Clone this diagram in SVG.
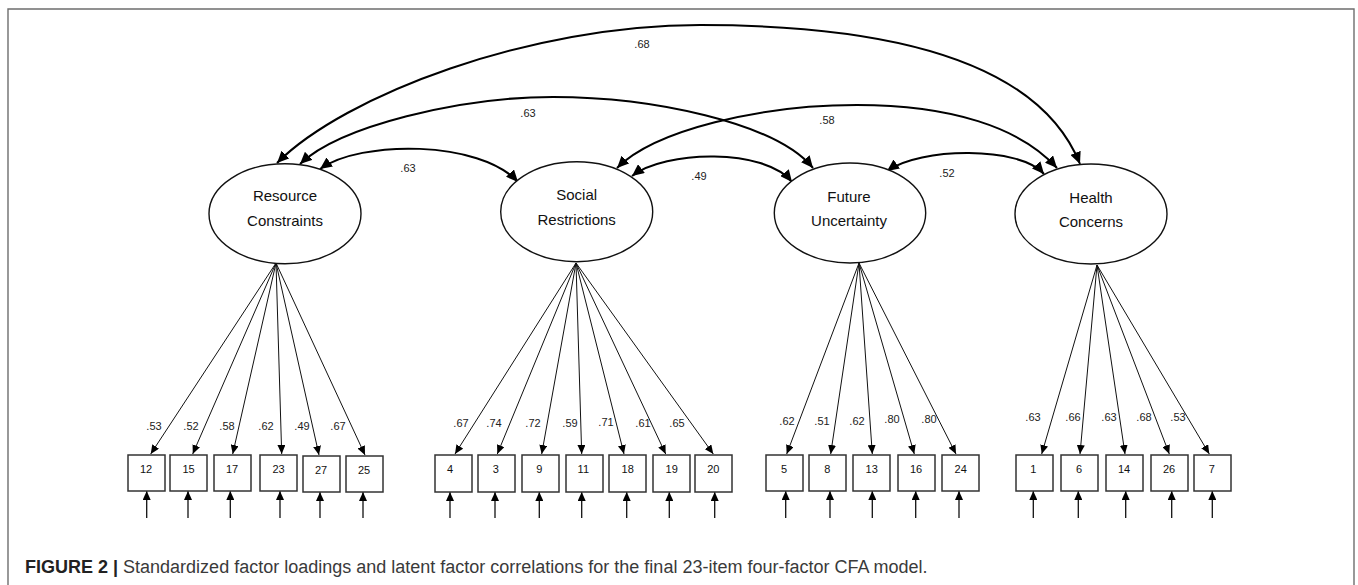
<svg xmlns="http://www.w3.org/2000/svg" width="1358" height="585" viewBox="0 0 1358 585">
<style>
.frame{fill:none;stroke:#6e6e6e;stroke-width:1.4}
.lat ellipse{fill:#fff;stroke:#111;stroke-width:1.4}
.lat text{font-family:"Liberation Sans",Arial,sans-serif;font-size:15px;fill:#111;text-anchor:middle}
.obs rect{fill:#fff;stroke:#333;stroke-width:1.5}
.obs text{font-family:"Liberation Sans",Arial,sans-serif;font-size:11px;fill:#111;text-anchor:middle}
.corr{fill:none;stroke:#000;stroke-width:2;marker-start:url(#big);marker-end:url(#big)}
.load{stroke:#111;stroke-width:1;marker-end:url(#small)}
.err{stroke:#111;stroke-width:1.3;marker-end:url(#small)}
.lbl{font-family:"Liberation Sans",Arial,sans-serif;font-size:11px;fill:#222;text-anchor:middle}
.cap{font-family:"Liberation Sans",Arial,Helvetica,sans-serif;font-size:18px;fill:#3a3a3a}
.capb{font-weight:bold;fill:#222}
</style>
<defs>
<marker id="big" viewBox="0 0 12 11" refX="12" refY="5.5" markerWidth="12" markerHeight="11" markerUnits="userSpaceOnUse" orient="auto-start-reverse">
<path d="M0,0 L12,5.5 L0,11 z" fill="#000"/>
</marker>
<marker id="small" viewBox="0 0 9 8" refX="9" refY="4" markerWidth="9" markerHeight="8" markerUnits="userSpaceOnUse" orient="auto">
<path d="M0,0 L9,4 L0,8 z" fill="#000"/>
</marker>
</defs>
<rect width="1358" height="585" fill="#fff"/>
<path class="frame" d="M8,586 V9 H1354 V586"/>

<g id="connectors">
<path class="corr" d="M277,163 C345,95 530,25 700,25 C930,25 1045,77 1080,164"/>
<path class="corr" d="M300,164 C340,126 460,97 553,97 C650,97 775,122 813,168"/>
<path class="corr" d="M617,168 C655,130 760,105 857,105 C950,105 1020,127 1057,168"/>
<path class="corr" d="M320,169 C360,140 480,140 518,182"/>
<path class="corr" d="M632,176 C665,150 765,148 792,182"/>
<path class="corr" d="M887,171 C920,147 1020,146 1044,174"/>
<text class="lbl" x="642" y="48">.68</text>
<text class="lbl" x="528" y="117">.63</text>
<text class="lbl" x="408" y="172">.63</text>
<text class="lbl" x="699" y="180">.49</text>
<text class="lbl" x="827" y="124">.58</text>
<text class="lbl" x="947" y="177">.52</text>

<line class="load" x1="276" y1="263" x2="150.7" y2="454"/>
<line class="load" x1="276" y1="263" x2="192.7" y2="454"/>
<line class="load" x1="276" y1="263" x2="232.7" y2="454"/>
<line class="load" x1="276" y1="263" x2="281.7" y2="454"/>
<line class="load" x1="276" y1="263" x2="319" y2="455"/>
<line class="load" x1="276" y1="263" x2="365" y2="455"/>
<text class="lbl" x="154" y="430">.53</text>
<text class="lbl" x="191" y="430">.52</text>
<text class="lbl" x="227" y="430">.58</text>
<text class="lbl" x="266" y="430">.62</text>
<text class="lbl" x="302" y="430">.49</text>
<text class="lbl" x="338" y="430">.67</text>

<line class="load" x1="576" y1="263" x2="455" y2="454"/>
<line class="load" x1="576" y1="263" x2="497.3" y2="454"/>
<line class="load" x1="576" y1="263" x2="541.7" y2="454"/>
<line class="load" x1="576" y1="263" x2="581.7" y2="454"/>
<line class="load" x1="576" y1="263" x2="624" y2="454"/>
<line class="load" x1="576" y1="263" x2="665.7" y2="454"/>
<line class="load" x1="576" y1="263" x2="713.3" y2="454"/>
<text class="lbl" x="461" y="426.5">.67</text>
<text class="lbl" x="494" y="426.5">.74</text>
<text class="lbl" x="533" y="426.5">.72</text>
<text class="lbl" x="570" y="426.5">.59</text>
<text class="lbl" x="606" y="425.5">.71</text>
<text class="lbl" x="643" y="426.5">.61</text>
<text class="lbl" x="677" y="426.5">.65</text>

<line class="load" x1="859" y1="263" x2="786.7" y2="454"/>
<line class="load" x1="859" y1="263" x2="830.7" y2="454"/>
<line class="load" x1="859" y1="263" x2="872.3" y2="454"/>
<line class="load" x1="859" y1="263" x2="914.3" y2="454"/>
<line class="load" x1="859" y1="263" x2="956" y2="454"/>
<text class="lbl" x="787" y="424.5">.62</text>
<text class="lbl" x="822" y="424.5">.51</text>
<text class="lbl" x="857" y="424.5">.62</text>
<text class="lbl" x="892" y="423">.80</text>
<text class="lbl" x="929" y="423">.80</text>

<line class="load" x1="1097" y1="265" x2="1041.7" y2="454"/>
<line class="load" x1="1097" y1="265" x2="1080" y2="454"/>
<line class="load" x1="1097" y1="265" x2="1125" y2="454"/>
<line class="load" x1="1097" y1="265" x2="1169.3" y2="454"/>
<line class="load" x1="1097" y1="265" x2="1209.3" y2="454"/>
<text class="lbl" x="1033" y="421">.63</text>
<text class="lbl" x="1073" y="421">.66</text>
<text class="lbl" x="1109" y="421">.63</text>
<text class="lbl" x="1144" y="421">.68</text>
<text class="lbl" x="1178" y="421">.53</text>

<line class="err" x1="146.7" y1="518" x2="146.7" y2="491"/>
<line class="err" x1="188" y1="518" x2="188" y2="491"/>
<line class="err" x1="230.3" y1="518" x2="230.3" y2="491"/>
<line class="err" x1="280" y1="518" x2="280" y2="491"/>
<line class="err" x1="320" y1="518" x2="320" y2="492"/>
<line class="err" x1="363" y1="518" x2="363" y2="492"/>
<line class="err" x1="450" y1="518" x2="450" y2="492"/>
<line class="err" x1="495" y1="518" x2="495" y2="492"/>
<line class="err" x1="539.3" y1="518" x2="539.3" y2="492"/>
<line class="err" x1="581.7" y1="518" x2="581.7" y2="492"/>
<line class="err" x1="626.7" y1="518" x2="626.7" y2="492"/>
<line class="err" x1="669.3" y1="518" x2="669.3" y2="492"/>
<line class="err" x1="714.7" y1="518" x2="714.7" y2="492"/>
<line class="err" x1="785.7" y1="518" x2="785.7" y2="491"/>
<line class="err" x1="830" y1="518" x2="830" y2="491"/>
<line class="err" x1="872.3" y1="518" x2="872.3" y2="491"/>
<line class="err" x1="915.7" y1="518" x2="915.7" y2="491"/>
<line class="err" x1="959" y1="518" x2="959" y2="491"/>
<line class="err" x1="1033.3" y1="518" x2="1033.3" y2="491"/>
<line class="err" x1="1078.3" y1="518" x2="1078.3" y2="491"/>
<line class="err" x1="1125.7" y1="518" x2="1125.7" y2="491"/>
<line class="err" x1="1171.7" y1="518" x2="1171.7" y2="491"/>
<line class="err" x1="1212.3" y1="518" x2="1212.3" y2="491"/>
</g>

<g id="resource-constraints" class="lat"><ellipse cx="285" cy="213.7" rx="76" ry="50"/><text x="285" y="201">Resource</text><text x="285" y="226">Constraints</text></g>
<g id="social-restrictions" class="lat"><ellipse cx="576.7" cy="211.7" rx="76" ry="50"/><text x="576.7" y="200">Social</text><text x="576.7" y="225">Restrictions</text></g>
<g id="future-uncertainty" class="lat"><ellipse cx="850" cy="213" rx="75.7" ry="50"/><text x="849" y="201.5">Future</text><text x="849" y="226">Uncertainty</text></g>
<g id="health-concerns" class="lat"><ellipse cx="1091" cy="214" rx="76" ry="50"/><text x="1091" y="202.5">Health</text><text x="1091" y="226.5">Concerns</text></g>

<g id="item-12" class="obs"><rect x="128" y="455" width="37" height="36"/><text x="146" y="473">12</text></g>
<g id="item-15" class="obs"><rect x="170" y="455" width="37" height="36"/><text x="188.5" y="473">15</text></g>
<g id="item-17" class="obs"><rect x="214" y="455" width="37" height="36"/><text x="232" y="473">17</text></g>
<g id="item-23" class="obs"><rect x="260" y="455" width="37" height="36"/><text x="278.5" y="473">23</text></g>
<g id="item-27" class="obs"><rect x="303" y="456" width="37" height="36"/><text x="321" y="474">27</text></g>
<g id="item-25" class="obs"><rect x="346" y="456" width="37" height="36"/><text x="364" y="474">25</text></g>

<g id="item-4" class="obs"><rect x="435" y="455" width="37" height="37"/><text x="450" y="473">4</text></g>
<g id="item-3" class="obs"><rect x="478" y="455" width="37" height="37"/><text x="495.7" y="473">3</text></g>
<g id="item-9" class="obs"><rect x="522" y="455" width="37" height="37"/><text x="539.3" y="473">9</text></g>
<g id="item-11" class="obs"><rect x="566" y="455" width="37" height="37"/><text x="583.3" y="473">11</text></g>
<g id="item-18" class="obs"><rect x="609" y="455" width="37" height="37"/><text x="627.7" y="473">18</text></g>
<g id="item-19" class="obs"><rect x="653" y="455" width="37" height="37"/><text x="671.7" y="473">19</text></g>
<g id="item-20" class="obs"><rect x="695" y="455" width="37" height="37"/><text x="713.3" y="473">20</text></g>

<g id="item-5" class="obs"><rect x="766" y="455" width="37" height="36"/><text x="784" y="473">5</text></g>
<g id="item-8" class="obs"><rect x="809" y="455" width="37" height="36"/><text x="827.3" y="473">8</text></g>
<g id="item-13" class="obs"><rect x="853" y="455" width="37" height="36"/><text x="871.7" y="473">13</text></g>
<g id="item-16" class="obs"><rect x="898" y="455" width="37" height="36"/><text x="916" y="473">16</text></g>
<g id="item-24" class="obs"><rect x="942" y="455" width="37" height="36"/><text x="960.7" y="473">24</text></g>

<g id="item-1" class="obs"><rect x="1016" y="455" width="37" height="36"/><text x="1033.3" y="473">1</text></g>
<g id="item-6" class="obs"><rect x="1061" y="455" width="37" height="36"/><text x="1079" y="473">6</text></g>
<g id="item-14" class="obs"><rect x="1106" y="455" width="37" height="36"/><text x="1124" y="473">14</text></g>
<g id="item-26" class="obs"><rect x="1151" y="455" width="37" height="36"/><text x="1169" y="473">26</text></g>
<g id="item-7" class="obs"><rect x="1194" y="455" width="37" height="36"/><text x="1211.7" y="473">7</text></g>

<text class="cap" x="25" y="573"><tspan class="capb">FIGURE 2 |</tspan> Standardized factor loadings and latent factor correlations for the final 23-item four-factor CFA model.</text>
</svg>
